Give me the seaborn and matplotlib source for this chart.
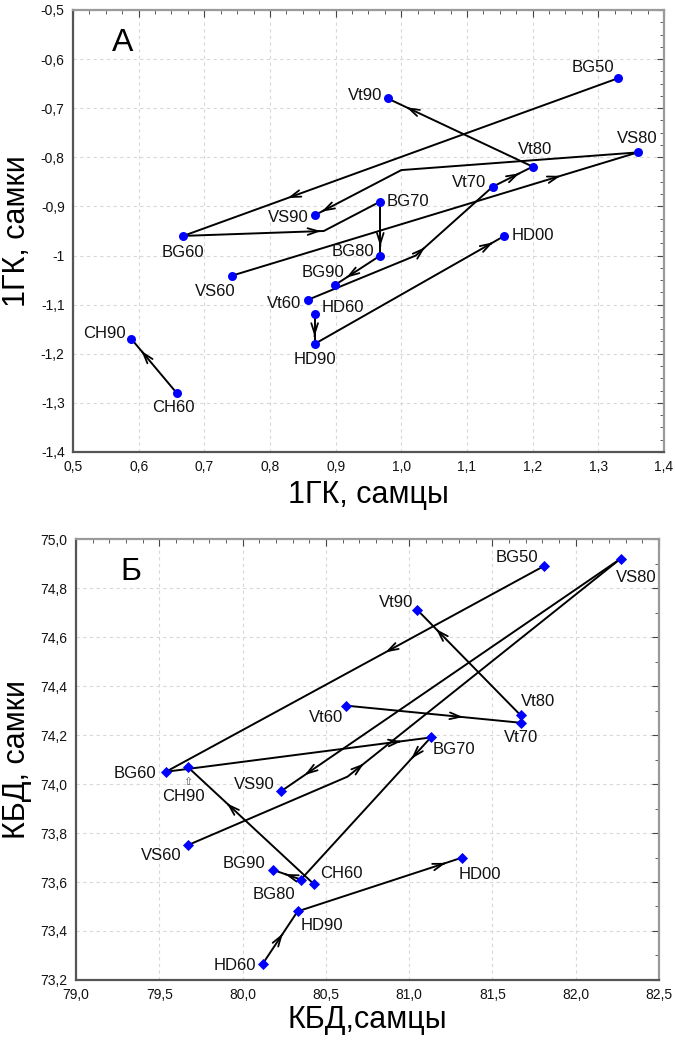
import numpy as np
import matplotlib
matplotlib.use("Agg")
import matplotlib.pyplot as plt
from matplotlib.ticker import MultipleLocator
import seaborn as sns

# ---- data -------------------------------------------------------------
names = ["BG50", "BG60", "BG70", "BG80", "BG90",
         "Vt60", "Vt70", "Vt80", "Vt90",
         "VS60", "VS80", "VS90",
         "HD60", "HD90", "HD00",
         "CH60", "CH90"]

# panel A: 1st principal component (males x, females y)
a_x = [1.330, 0.668, 0.968, 0.968, 0.899,
       0.858, 1.139, 1.200, 0.979,
       0.742, 1.360, 0.868,
       0.868, 0.868, 1.157,
       0.658, 0.589]
a_y = [-0.639, -0.960, -0.890, -1.000, -1.060,
       -1.090, -0.860, -0.819, -0.680,
       -1.041, -0.790, -0.918,
       -1.120, -1.180, -0.960,
       -1.280, -1.170]

# panel B: KBD (males x, females y)
b_x = [81.81, 79.54, 81.13, 80.35, 80.18,
       80.62, 81.67, 81.67, 81.05,
       79.67, 82.27, 80.23,
       80.12, 80.33, 81.32,
       80.43, 79.67]
b_y = [74.89, 74.05, 74.19, 73.61, 73.65,
       74.32, 74.25, 74.28, 74.71,
       73.75, 74.92, 73.97,
       73.265, 73.48, 73.70,
       73.59, 74.07]

# transitions: (from, to, bend point or None)
a_links = [("BG50", "BG60", None), ("BG60", "BG70", (0.882, -0.950)),
           ("BG70", "BG80", None), ("BG80", "BG90", None),
           ("Vt60", "Vt70", (1.022, -1.000)), ("Vt70", "Vt80", None),
           ("Vt80", "Vt90", None), ("VS60", "VS80", None),
           ("VS80", "VS90", (1.000, -0.826)), ("HD60", "HD90", None),
           ("HD90", "HD00", None), ("CH60", "CH90", None)]
b_links = [("BG50", "BG60", None), ("BG60", "BG70", None),
           ("BG70", "BG80", None), ("BG80", "BG90", None),
           ("Vt60", "Vt70", None), ("Vt70", "Vt80", None),
           ("Vt80", "Vt90", None), ("VS60", "VS80", (80.63, 74.03)),
           ("VS80", "VS90", None), ("HD60", "HD90", None),
           ("HD90", "HD00", None), ("CH60", "CH90", None)]

# ---- styling ------------------------------------------------------------
# where the arrow head sits: (segment index, fraction along it)
a_heads = [(0, 0.76), (0, 0.98), (0, 0.83), (0, 0.75), (1, 0.12), (0, 0.67),
           (0, 0.87), (0, 0.81), (1, 0.92), (0, 0.75), (0, 0.94), (0, 0.78)]
b_heads = [(0, 0.42), (0, 0.89), (0, 0.15), (0, 0.56), (0, 0.67), None,
           (0, 0.82), (1, 0.06), (0, 0.93), (0, 0.58), (0, 0.90), (0, 0.69)]

# label placement: dx, dy (pixels), ha, va
a_lab = {"BG50": (-4, 3, "right", "bottom"), "Vt90": (-5, 3, "right", "center"),
         "Vt80": (2, 10, "center", "bottom"), "VS80": (0, 6, "center", "bottom"),
         "Vt70": (-6, 4, "right", "center"), "BG70": (6, 0, "left", "center"),
         "VS90": (-6, -2, "right", "center"), "BG60": (0, -9, "center", "top"),
         "HD00": (7, 0, "left", "center"), "BG80": (-6, 4, "right", "center"),
         "BG90": (-12, 5, "center", "bottom"), "VS60": (-17, -8, "center", "top"),
         "Vt60": (-7, -4, "right", "center"), "HD60": (7, 7, "left", "center"),
         "HD90": (0, -8, "center", "top"), "CH90": (-6, 6, "right", "center"),
         "CH60": (-3, -7, "center", "top")}
b_lab = {"BG50": (-6, 1, "right", "bottom"), "VS80": (16, -11, "center", "top"),
         "Vt90": (-4, 0, "right", "bottom"), "Vt80": (0, 6, "left", "bottom"),
         "Vt70": (0, -7, "center", "top"), "Vt60": (-3, -4, "right", "top"),
         "BG70": (2, -5, "left", "top"), "BG60": (-10, -2, "right", "center"),
         "CH90": (-4, -22, "center", "top"), "VS90": (-6, 7, "right", "center"),
         "VS60": (-6, -3, "right", "top"), "BG90": (-7, 6, "right", "center"),
         "BG80": (-6, -7, "right", "top"), "CH60": (6, 11, "left", "center"),
         "HD00": (-4, -9, "left", "top"), "HD90": (3, -7, "left", "top"),
         "HD60": (-6, -1, "right", "center")}

sns.set_style("white")
plt.rcParams['font.family'] = ['Liberation Sans', 'DejaVu Sans']

fig = plt.figure(figsize=(6.75, 10.4), dpi=100)
axA = fig.add_axes([0.1081, 0.5654, 0.8756, 0.4250])
axB = fig.add_axes([0.1126, 0.0577, 0.8637, 0.4240])


def fmt(v, nd):
    s = f"{v:.{nd}f}".replace(".", ",")
    return s


def draw_panel(ax, xs, ys, links, heads, labs, marker, msize):
    pos = dict(zip(names, zip(xs, ys)))
    for (p, q, bend), hd in zip(links, heads):
        path = [pos[p]] + ([bend] if bend else []) + [pos[q]]
        px = [c[0] for c in path]
        py = [c[1] for c in path]
        ax.plot(px, py, color="black", lw=1.4, zorder=2, solid_joinstyle="miter")
        if hd is None:
            continue
        i, t = hd
        x0, y0 = path[i]
        x1, y1 = path[i + 1]
        hx, hy = x0 + t * (x1 - x0), y0 + t * (y1 - y0)
        ax.annotate("", xy=(hx, hy), xytext=(hx - 0.01 * (x1 - x0), hy - 0.01 * (y1 - y0)),
                    arrowprops=dict(arrowstyle="->,head_length=0.75,head_width=0.24",
                                    color="black", lw=1.3, shrinkA=0, shrinkB=0,
                                    mutation_scale=10), zorder=2)
    sns.scatterplot(x=xs, y=ys, marker=marker, s=msize, color="#0000ff",
                    edgecolor="#0000ff", linewidth=0, ax=ax, zorder=3)
    for n in names:
        dx, dy, ha, va = labs[n]
        ax.annotate(n, xy=pos[n], xytext=(dx, dy), textcoords="offset pixels",
                    ha=ha, va=va, fontsize=12, color="#111111", zorder=4)


def style_axes(ax, minor):
    ax.grid(True, which="major", color="#d8d8d8", lw=0.8, ls=(0, (3, 3)))
    ax.set_axisbelow(True)
    ax.xaxis.set_minor_locator(MultipleLocator(minor[0]))
    ax.yaxis.set_minor_locator(MultipleLocator(minor[1]))
    ax.tick_params(which="both", direction="in", top=True, right=True,
                   color="#444444", labelsize=10, labelcolor="#111111")
    ax.tick_params(which="major", length=5, pad=6)
    ax.tick_params(which="minor", length=3)
    for s in ["left", "bottom"]:
        ax.spines[s].set_color("#555555")
        ax.spines[s].set_linewidth(1.6)
    for s in ["top", "right"]:
        ax.spines[s].set_color("#9a9a9a")
        ax.spines[s].set_linewidth(1.6)


# ---- panel A ---------------------------------------------------------------
draw_panel(axA, a_x, a_y, a_links, a_heads, a_lab, "o", 42)
style_axes(axA, (0.025, 0.025))
axA.set_xlim(0.5, 1.4)
axA.set_ylim(-1.4, -0.5)
xt = np.round(np.arange(0.5, 1.41, 0.1), 2)
yt = np.round(np.arange(-1.4, -0.49, 0.1), 2)
axA.set_xticks(xt, [fmt(v, 1) for v in xt])
axA.set_yticks(yt, ["-1" if v == -1 else fmt(v, 1) for v in yt])
axA.set_xlabel("1ГК, самцы", fontsize=22, labelpad=4, color="black")
axA.set_ylabel("1ГК, самки", fontsize=22, labelpad=6, color="black")
axA.text(0.575, -0.567, "A", fontsize=23, ha="center", va="center", color="black")

# ---- panel B ---------------------------------------------------------------
draw_panel(axB, b_x, b_y, b_links, b_heads, b_lab, "D", 32)
style_axes(axB, (0.1, 0.1))
axB.set_xlim(79.0, 82.5)
axB.set_ylim(73.2, 75.0)
xt = np.round(np.arange(79.0, 82.51, 0.5), 2)
yt = np.round(np.arange(73.2, 75.01, 0.2), 2)
axB.set_xticks(xt, [fmt(v, 1) for v in xt])
axB.set_yticks(yt, [fmt(v, 1) for v in yt])
axB.set_xlabel("КБД,самцы", fontsize=22, labelpad=2, color="black")
axB.set_ylabel("КБД, самки", fontsize=22, labelpad=6, color="black")
axB.text(79.33, 74.865, "Б", fontsize=23, ha="center", va="center", color="black")
# small hollow arrow under CH90
cx, cy = b_x[names.index("CH90")], b_y[names.index("CH90")]
axB.annotate("⇧", xy=(cx, cy), xytext=(0, -15), textcoords="offset pixels",
             ha="center", va="center", fontsize=8, color="#555555",
             family=["DejaVu Sans"])

fig.savefig("out.png", dpi=100)
